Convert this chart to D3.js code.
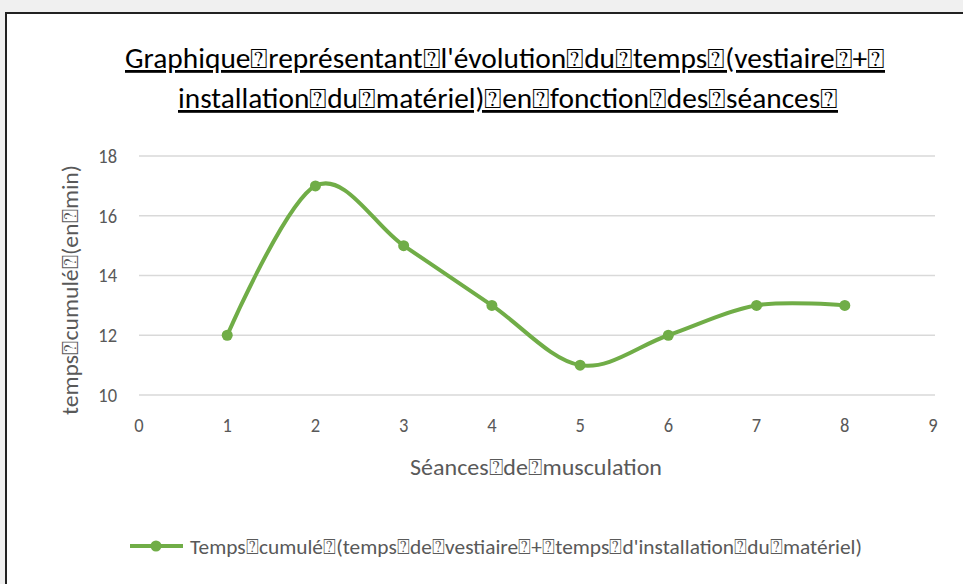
<!DOCTYPE html>
<html>
<head>
<meta charset="utf-8">
<script src="https://cdn.jsdelivr.net/npm/d3@7"></script>
<style>
  html, body { margin: 0; padding: 0; background: #f0f0f0; }
  svg { display: block; }
</style>
</head>
<body>
<svg id="chart" width="963" height="584"></svg>
<script>
// boxes in the original are missing-glyph marks where spaces were
var B = '\u2370';

var seances = [1, 2, 3, 4, 5, 6, 7, 8];
var temps = [12, 17, 15, 13, 11, 12, 13, 13];
var xTicks = [0, 1, 2, 3, 4, 5, 6, 7, 8, 9];
var yTicks = [10, 12, 14, 16, 18];

var titleLines = [
    'Graphique' + B + 'représentant' + B + 'l\'évolution' + B + 'du' + B + 'temps' + B + '(vestiaire' + B + '+' + B,
    'installation' + B + 'du' + B + 'matériel)' + B + 'en' + B + 'fonction' + B + 'des' + B + 'séances' + B
];
var yTitle = 'temps' + B + 'cumulé' + B + '(en' + B + 'min)';
var xTitle = 'Séances' + B + 'de' + B + 'musculation';
var legendLabel = 'Temps' + B + 'cumulé' + B + '(temps' + B + 'de' + B + 'vestiaire' + B + '+' + B + 'temps' + B + 'd\'installation' + B + 'du' + B + 'matériel)';

var Chart = {};
Chart.font = 'Calibri, Carlito, Lato, sans-serif';
Chart.green = '#70ad47';
Chart.grey = '#595959';

Chart.svg = d3.select('#chart');

// white chart area with its frame
Chart.svg.append('rect')
    .attr('x', 6).attr('y', 13).attr('width', 970).attr('height', 590)
    .attr('fill', '#fff').attr('stroke', '#222').attr('stroke-width', 2);

Chart.x = d3.scaleLinear().domain([0, 9]).range([139, 933]);
Chart.y = d3.scaleLinear().domain([10, 18]).range([395, 156]);

// gridlines
Chart.svg.append('g').selectAll('line')
    .data(yTicks).enter().append('line')
    .attr('x1', 139).attr('x2', 935)
    .attr('y1', function(d) { return Chart.y(d); })
    .attr('y2', function(d) { return Chart.y(d); })
    .attr('stroke', '#d9d9d9').attr('stroke-width', 1.5);

// y tick labels
Chart.svg.append('g').selectAll('text')
    .data(yTicks).enter().append('text')
    .attr('x', 117)
    .attr('y', function(d) { return Chart.y(d) + 7; })
    .attr('text-anchor', 'end')
    .attr('font-family', Chart.font).attr('font-size', 21)
    .attr('fill', Chart.grey)
    .attr('transform', function(d) { return 'translate(' + 117 + ',0) scale(0.88,1) translate(' + (-117) + ',0)'; })
    .text(function(d) { return d; });

// x tick labels
Chart.svg.append('g').selectAll('text')
    .data(xTicks).enter().append('text')
    .attr('x', function(d) { return Chart.x(d); })
    .attr('y', 432)
    .attr('text-anchor', 'middle')
    .attr('font-family', Chart.font).attr('font-size', 21)
    .attr('fill', Chart.grey)
    .attr('transform', function(d) { var cx = Chart.x(d); return 'translate(' + cx + ',0) scale(0.88,1) translate(' + (-cx) + ',0)'; })
    .text(function(d) { return d; });

// line
var pts = seances.map(function(s, i) { return [s, temps[i]]; });
var line = d3.line()
    .x(function(d) { return Chart.x(d[0]); })
    .y(function(d) { return Chart.y(d[1]); })
    .curve(d3.curveCardinal.tension(0));

Chart.svg.append('path')
    .datum(pts)
    .attr('d', line)
    .attr('fill', 'none')
    .attr('stroke', Chart.green).attr('stroke-width', 4)
    .attr('stroke-linecap', 'round');

Chart.svg.append('g').selectAll('circle')
    .data(pts).enter().append('circle')
    .attr('cx', function(d) { return Chart.x(d[0]); })
    .attr('cy', function(d) { return Chart.y(d[1]); })
    .attr('r', 5.5)
    .attr('fill', Chart.green);

// title
var titleBox = [[125, 760], [178, 660]];
Chart.svg.append('g').selectAll('text')
    .data(titleLines).enter().append('text')
    .attr('x', function(d, i) { return titleBox[i][0]; })
    .attr('y', function(d, i) { return 68 + i * 40; })
    .attr('textLength', function(d, i) { return titleBox[i][1]; })
    .attr('lengthAdjust', 'spacingAndGlyphs')
    .attr('font-family', Chart.font).attr('font-size', 28)
    .attr('fill', '#000')
    .attr('text-decoration', 'underline')
    .text(function(d) { return d; });

// axis titles
Chart.svg.append('text')
    .attr('transform', 'translate(78,' + 415 + ') rotate(-90)')
    .attr('textLength', 250)
    .attr('lengthAdjust', 'spacingAndGlyphs')
    .attr('font-family', Chart.font).attr('font-size', 23)
    .attr('fill', Chart.grey)
    .text(yTitle);

Chart.svg.append('text')
    .attr('x', 410).attr('y', 475)
    .attr('textLength', 252)
    .attr('lengthAdjust', 'spacingAndGlyphs')
    .attr('font-family', Chart.font).attr('font-size', 23)
    .attr('fill', Chart.grey)
    .text(xTitle);

// legend
Chart.svg.append('line')
    .attr('x1', 130).attr('x2', 183).attr('y1', 546).attr('y2', 546)
    .attr('stroke', Chart.green).attr('stroke-width', 4);
Chart.svg.append('circle')
    .attr('cx', 156).attr('cy', 546).attr('r', 5.5).attr('fill', Chart.green);
Chart.svg.append('text')
    .attr('x', 190).attr('y', 554)
    .attr('textLength', 672)
    .attr('lengthAdjust', 'spacingAndGlyphs')
    .attr('font-family', Chart.font).attr('font-size', 21)
    .attr('fill', Chart.grey)
    .text(legendLabel);
</script>
</body>
</html>
